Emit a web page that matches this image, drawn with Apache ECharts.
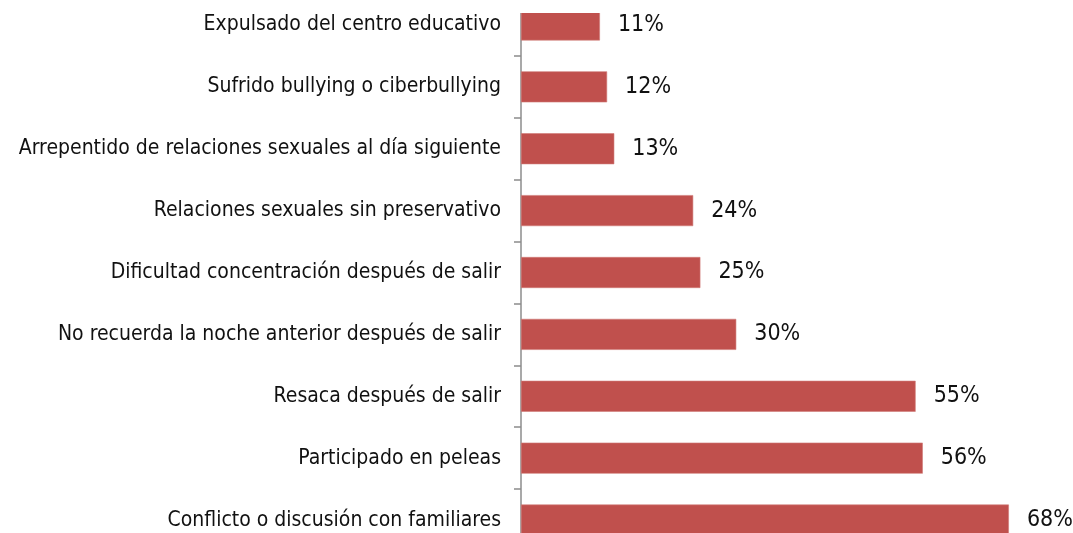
<!DOCTYPE html>
<html>
<head>
<meta charset="utf-8">
<script src="https://cdn.jsdelivr.net/npm/echarts@6/dist/echarts.min.js"></script>
<style>
html,body{margin:0;padding:0;background:#fff;}
#chart{width:1073px;height:533px;}
</style>
</head>
<body>
<div id="chart"></div>
<script>
const categories = [
  "Expulsado del centro educativo",
  "Sufrido bullying o ciberbullying",
  "Arrepentido de relaciones sexuales al día siguiente",
  "Relaciones sexuales sin preservativo",
  "Dificultad concentración después de salir",
  "No recuerda la noche anterior después de salir",
  "Resaca después de salir",
  "Participado en peleas",
  "Conflicto o discusión con familiares"
];
const values = [11, 12, 13, 24, 25, 30, 55, 56, 68];

const font = '"Liberation Sans Narrow", "Arial Narrow", "DejaVu Sans Condensed", sans-serif';
const chart = echarts.init(document.getElementById('chart'), null, {renderer: 'canvas'});
chart.setOption({
  animation: false,
  backgroundColor: '#ffffff',
  grid: {left: 521, top: -6, width: 574, height: 557, containLabel: false, outerBoundsMode: 'none'},
  xAxis: {
    type: 'value', min: 0, max: 80, show: false
  },
  yAxis: {
    type: 'category',
    data: categories,
    inverse: true,
    axisLine: {show: true, lineStyle: {color: '#8c8c8c', width: 1.5}},
    axisTick: {show: true, length: 7, lineStyle: {color: '#8c8c8c', width: 1.5}},
    axisLabel: {margin: 20, color: '#111', fontSize: 21, fontFamily: font, padding: [4, 0, 0, 0]},
    splitLine: {show: false}
  },
  series: [{
    type: 'bar',
    data: values,
    barWidth: 31,
    itemStyle: {color: '#C0504D', borderColor: '#d07a77', borderWidth: 0.6},
    label: {
      show: true, position: 'right', distance: 18,
      formatter: '{c}%', color: '#111', fontSize: 23, fontFamily: font
    }
  }],
  graphic: [{
    type: 'rect', left: 512, top: 0, z: 100,
    shape: {width: 561, height: 13},
    style: {fill: '#ffffff'}
  }]
});
</script>
</body>
</html>
